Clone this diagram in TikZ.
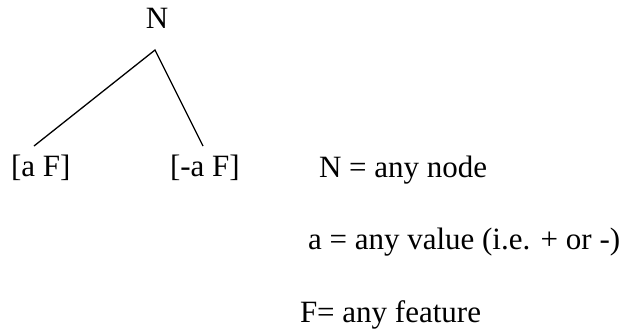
\documentclass[tikz,border=0pt]{standalone}
\usepackage{fontspec}
\setmainfont{Liberation Serif}
\begin{document}
\begin{tikzpicture}[x=1pt,y=-1pt,
  txt/.style={inner sep=0pt,outer sep=0pt,anchor=base west,font=\fontsize{31}{37}\selectfont},
  branch/.style={line width=1.3pt}]
\useasboundingbox[fill=white] (0,0) rectangle (628,333);
\node[txt,anchor=base] (N) at (157,28) {N};
\node[txt] (aF) at (11,176) {[a F]};
\node[txt] (naF) at (170,176) {[-a F]};
\node[txt] (d1) at (319,177) {N = any node};
\node[txt] (d2) at (308,249) {a = any value (i.e. + or -)};
\node[txt] (d3) at (300,322) {F= any feature};
\coordinate (apex) at (155,50);
\coordinate (lend) at (34,146);
\coordinate (rend) at (203,146);
\draw[branch] (lend) -- (apex) -- (rend);
\end{tikzpicture}
\end{document}
